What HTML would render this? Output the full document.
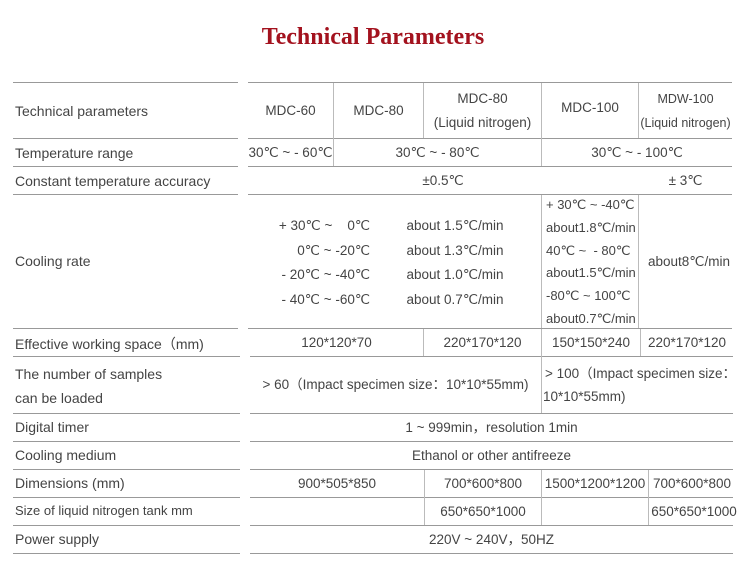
<!DOCTYPE html>
<html><head><meta charset="utf-8"><style>
body{margin:0;width:750px;height:588px;background:#fff;position:relative;font-family:"Liberation Sans",sans-serif;color:#444;font-size:13.5px;overflow:hidden}
.h{position:absolute;height:1px;background:#999}
.v{position:absolute;width:1px;background:#bbb}
.t{position:absolute;white-space:nowrap;line-height:16px}
.l{font-size:14px}
.c{position:absolute;text-align:center;white-space:nowrap;display:flex;align-items:center;justify-content:center;line-height:24px}
</style></head><body>
<div class="t" style="left:0;width:746px;top:22px;text-align:center;font-family:'Liberation Serif',serif;font-weight:bold;font-size:24px;color:#a3121e;line-height:30px">Technical Parameters</div>

<div class="h" style="left:13px;width:225px;top:82px"></div><div class="h" style="left:248px;width:484px;top:82px"></div>
<div class="h" style="left:13px;width:225px;top:138px"></div><div class="h" style="left:248px;width:484px;top:138px"></div>
<div class="h" style="left:13px;width:225px;top:166px"></div><div class="h" style="left:248px;width:484px;top:166px"></div>
<div class="h" style="left:13px;width:225px;top:194px"></div><div class="h" style="left:248px;width:484px;top:194px"></div>
<div class="h" style="left:13px;width:225px;top:328px"></div><div class="h" style="left:248px;width:484px;top:328px"></div>
<div class="h" style="left:13px;width:227px;top:356px"></div><div class="h" style="left:250px;width:483px;top:356px"></div>
<div class="h" style="left:13px;width:227px;top:413px"></div><div class="h" style="left:250px;width:483px;top:413px"></div>
<div class="h" style="left:13px;width:227px;top:441px"></div><div class="h" style="left:250px;width:483px;top:441px"></div>
<div class="h" style="left:13px;width:227px;top:469px"></div><div class="h" style="left:250px;width:483px;top:469px"></div>
<div class="h" style="left:13px;width:227px;top:497px"></div><div class="h" style="left:250px;width:483px;top:497px"></div>
<div class="h" style="left:13px;width:227px;top:525px"></div><div class="h" style="left:250px;width:483px;top:525px"></div>
<div class="h" style="left:13px;width:227px;top:553px"></div><div class="h" style="left:250px;width:483px;top:553px"></div>

<div class="v" style="left:333px;top:83px;height:83px"></div>
<div class="v" style="left:423px;top:83px;height:55px"></div>
<div class="v" style="left:541px;top:83px;height:83px"></div>
<div class="v" style="left:638px;top:83px;height:55px"></div>
<div class="v" style="left:541px;top:195px;height:133px"></div>
<div class="v" style="left:638px;top:195px;height:133px"></div>
<div class="v" style="left:423px;top:329px;height:27px"></div>
<div class="v" style="left:541px;top:329px;height:84px"></div>
<div class="v" style="left:640px;top:329px;height:27px"></div>
<div class="v" style="left:424px;top:470px;height:55px"></div>
<div class="v" style="left:541px;top:470px;height:55px"></div>
<div class="v" style="left:648px;top:470px;height:55px"></div>

<div class="t l" style="left:15px;top:103px">Technical parameters</div>
<div class="t l" style="left:15px;top:145px">Temperature range</div>
<div class="t l" style="left:15px;top:173px">Constant temperature accuracy</div>
<div class="t l" style="left:15px;top:253px">Cooling rate</div>
<div class="t l" style="left:15px;top:336px">Effective working space（mm)</div>
<div class="t l" style="left:15px;top:366px">The number of samples</div>
<div class="t l" style="left:15px;top:390px">can be loaded</div>
<div class="t l" style="left:15px;top:419px">Digital timer</div>
<div class="t l" style="left:15px;top:447px">Cooling medium</div>
<div class="t l" style="left:15px;top:475px">Dimensions (mm)</div>
<div class="t" style="left:15px;top:503px;font-size:13px">Size of liquid nitrogen tank mm</div>
<div class="t l" style="left:15px;top:531px">Power supply</div>

<div class="c" style="left:248px;width:85px;top:83px;height:55px">MDC-60</div>
<div class="c" style="left:334px;width:89px;top:83px;height:55px">MDC-80</div>
<div class="c" style="left:424px;width:117px;top:83px;height:55px">MDC-80<br>(Liquid nitrogen)</div>
<div class="c" style="left:542px;width:96px;top:83px;height:55px;padding-bottom:6px;box-sizing:border-box">MDC-100</div>
<div class="c" style="left:639px;width:93px;top:83px;height:55px;font-size:12.5px">MDW-100<br>(Liquid nitrogen)</div>

<div class="c" style="left:248px;width:85px;top:139px;height:27px">30℃ ~ - 60℃</div>
<div class="c" style="left:334px;width:207px;top:139px;height:27px">30℃ ~ - 80℃</div>
<div class="c" style="left:542px;width:190px;top:139px;height:27px">30℃ ~ - 100℃</div>

<div class="c" style="left:248px;width:390px;top:167px;height:27px">±0.5℃</div>
<div class="c" style="left:639px;width:93px;top:167px;height:27px">± 3℃</div>

<div class="t" style="left:270px;width:100px;top:214px;text-align:right;line-height:24.5px">+ 30℃ ~ &nbsp;&nbsp; 0℃<br>0℃ ~ -20℃<br>- 20℃ ~ -40℃<br>- 40℃ ~ -60℃</div>
<div class="t" style="left:400px;width:110px;top:214px;text-align:center;line-height:24.5px">about 1.5℃/min<br>about 1.3℃/min<br>about 1.0℃/min<br>about 0.7℃/min</div>
<div class="t" style="left:546px;top:194px;line-height:22.8px;font-size:13px">+ 30℃ ~ -40℃<br>about1.8℃/min<br>40℃ ~ &nbsp;- 80℃<br>about1.5℃/min<br>-80℃ ~ 100℃<br>about0.7℃/min</div>
<div class="c" style="left:639px;width:100px;top:195px;height:133px">about8℃/min</div>

<div class="c" style="left:250px;width:173px;top:329px;height:27px">120*120*70</div>
<div class="c" style="left:424px;width:117px;top:329px;height:27px">220*170*120</div>
<div class="c" style="left:542px;width:98px;top:329px;height:27px">150*150*240</div>
<div class="c" style="left:641px;width:92px;top:329px;height:27px">220*170*120</div>

<div class="c" style="left:250px;width:291px;top:357px;height:56px">&gt; 60（Impact specimen size：10*10*55mm)</div>
<div class="t" style="left:545px;top:366px">&gt; 100（Impact specimen size：</div>
<div class="t" style="left:543px;top:389px">10*10*55mm)</div>

<div class="c" style="left:250px;width:483px;top:414px;height:27px">1 ~ 999min，resolution 1min</div>
<div class="c" style="left:250px;width:483px;top:442px;height:27px">Ethanol or other antifreeze</div>

<div class="c" style="left:250px;width:174px;top:470px;height:27px">900*505*850</div>
<div class="c" style="left:425px;width:116px;top:470px;height:27px">700*600*800</div>
<div class="c" style="left:542px;width:106px;top:470px;height:27px">1500*1200*1200</div>
<div class="c" style="left:649px;width:86px;top:470px;height:27px">700*600*800</div>

<div class="c" style="left:425px;width:116px;top:498px;height:27px">650*650*1000</div>
<div class="c" style="left:649px;width:90px;top:498px;height:27px">650*650*1000</div>

<div class="c" style="left:250px;width:483px;top:526px;height:27px">220V ~ 240V，50HZ</div>
</body></html>
